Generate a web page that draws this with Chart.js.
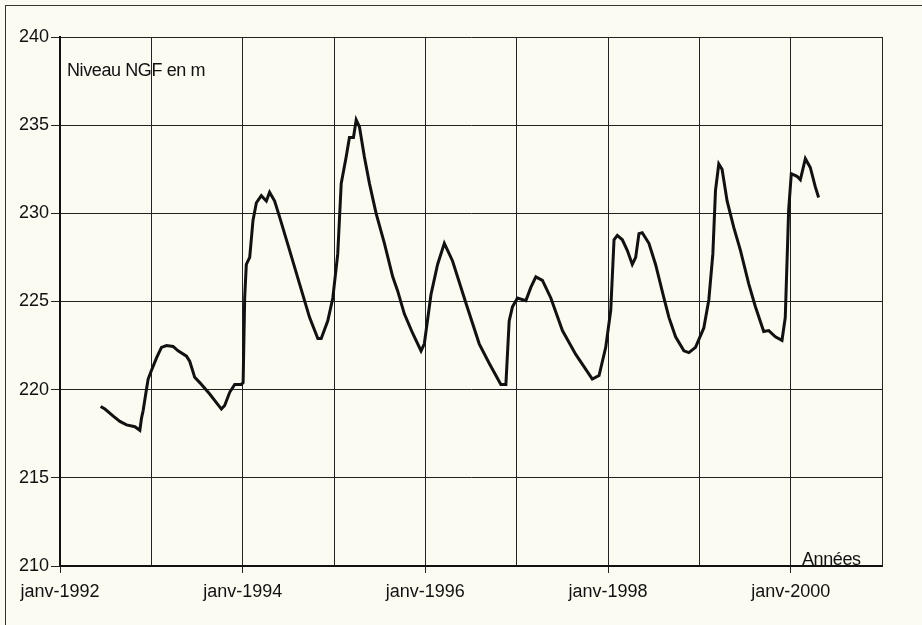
<!DOCTYPE html>
<html><head><meta charset="utf-8">
<script src="https://cdn.jsdelivr.net/npm/chart.js@4.4.1/dist/chart.umd.min.js"></script>
<style>html,body{margin:0;padding:0;background:#fbfbf1;} #wrap{width:922px;height:625px;position:relative}</style>
</head><body><div id="wrap"><canvas id="c" width="922" height="625"></canvas></div>
<script>
const dates = [1992.445,1992.492,1992.583,1992.656,1992.729,1992.820,1992.874,1992.893,1992.910,1992.940,1992.965,
1993.002,1993.057,1993.111,1993.166,1993.238,1993.293,1993.385,1993.421,1993.475,1993.530,1993.639,1993.767,1993.803,1993.858,1993.913,1993.986,
1994.005,1994.022,1994.040,1994.077,1994.113,1994.150,1994.204,1994.259,1994.295,1994.350,1994.404,1994.514,1994.623,1994.732,1994.823,1994.860,1994.932,1994.987,
1995.041,1995.079,1995.133,1995.169,1995.213,1995.243,1995.279,1995.333,1995.388,1995.461,1995.552,1995.643,1995.697,1995.770,1995.861,1995.953,1995.989,
1996.062,1996.134,1996.208,1996.298,1996.445,1996.590,1996.699,1996.827,1996.882,1996.918,1996.954,
1997.009,1997.101,1997.155,1997.210,1997.282,1997.374,1997.501,1997.647,1997.828,1997.902,1997.975,
1998.030,1998.066,1998.102,1998.157,1998.211,1998.266,1998.303,1998.339,1998.375,1998.448,1998.521,1998.612,1998.667,1998.740,1998.831,1998.885,1998.958,
1999.049,1999.104,1999.148,1999.177,1999.213,1999.249,1999.304,1999.377,1999.450,1999.541,1999.614,1999.705,1999.760,1999.833,1999.905,1999.941,1999.978,
2000.007,2000.069,2000.106,2000.161,2000.215,2000.270,2000.306];
const levels = [219.05,218.9,218.5,218.2,218.0,217.9,217.7,218.4,218.8,219.8,220.6,
221.1,221.8,222.4,222.5,222.45,222.2,221.9,221.6,220.7,220.4,219.75,218.9,219.1,219.85,220.3,220.3,
220.4,225.2,227.1,227.5,229.6,230.6,231.0,230.7,231.2,230.7,229.8,227.9,226.0,224.1,222.9,222.9,223.9,225.2,
227.7,231.7,233.2,234.3,234.3,235.3,234.9,233.2,231.7,230.0,228.3,226.4,225.6,224.3,223.2,222.2,222.6,
225.4,227.1,228.3,227.3,224.9,222.6,221.5,220.3,220.3,223.9,224.7,
225.2,225.05,225.8,226.4,226.2,225.2,223.35,222.0,220.6,220.8,222.4,
224.5,228.5,228.75,228.5,227.9,227.1,227.5,228.85,228.9,228.3,227.1,225.2,224.1,223.0,222.2,222.1,222.4,
223.5,225.1,227.7,231.3,232.8,232.5,230.7,229.2,227.9,226.0,224.7,223.3,223.35,223.0,222.8,224.1,230.2,
232.25,232.1,231.9,233.1,232.6,231.5,230.9];
const xLabelYears = [1992, 1994, 1996, 1998, 2000];
const yTitle = 'Niveau NGF en m';
const xTitle = 'Années';

const points = dates.map((d, i) => ({x: d, y: levels[i]}));

Chart.defaults.font.family = "'Liberation Sans', Arial, sans-serif";

const decor = {
  id: 'decor',
  beforeDraw(chart) {
    const ctx = chart.ctx;
    ctx.save();
    ctx.fillStyle = '#fbfbf1';
    ctx.fillRect(0, 0, chart.width, chart.height);
    ctx.strokeStyle = '#333';
    ctx.lineWidth = 1;
    ctx.strokeRect(5.5, 5.5, 1000, 1000);
    ctx.restore();
  },
  afterDraw(chart) {
    const ctx = chart.ctx;
    const a = chart.chartArea;
    ctx.save();
    ctx.fillStyle = '#111';
    ctx.font = "18px 'Liberation Sans', Arial, sans-serif";
    ctx.textBaseline = 'alphabetic';
    ctx.textAlign = 'left';
    try { ctx.letterSpacing = '-0.4px'; } catch (e) {}
    ctx.fillText(yTitle, a.left + 7, a.top + 39);
    ctx.fillText(xTitle, a.right - 80, a.bottom - 1);
    ctx.restore();
  }
};

new Chart(document.getElementById('c'), {
  type: 'line',
  data: {
    datasets: [{
      data: points,
      borderColor: '#111',
      borderWidth: 3,
      pointRadius: 0,
      tension: 0,
      fill: false
    }]
  },
  options: {
    responsive: false,
    animation: false,
    events: [],
    layout: { padding: { top: 37, right: 40, left: 0, bottom: 0 } },
    plugins: { legend: { display: false }, tooltip: { enabled: false } },
    scales: {
      x: {
        type: 'linear',
        min: 1992, max: 2001,
        afterFit(s) { s.height = 59; },
        ticks: {
          stepSize: 1, autoSkip: false, maxRotation: 0, minRotation: 0,
          color: '#111', font: { size: 18 }, padding: 8,
          callback: v => xLabelYears.includes(v) ? 'janv-' + v : ''
        },
        grid: {
          color: '#222', lineWidth: 1, tickLength: 7,
          tickColor: c => (c.tick && xLabelYears.includes(c.tick.value)) ? '#222' : 'rgba(0,0,0,0)'
        },
        border: { color: '#111', width: 2 }
      },
      y: {
        min: 210, max: 240,
        afterFit(s) { s.width = 60; },
        ticks: { stepSize: 5, color: '#111', font: { size: 18 }, padding: 2 },
        grid: { color: '#222', lineWidth: 1, tickLength: 9, tickColor: '#222' },
        border: { color: '#111', width: 2 }
      }
    }
  },
  plugins: [decor]
});
</script>
</body></html>
